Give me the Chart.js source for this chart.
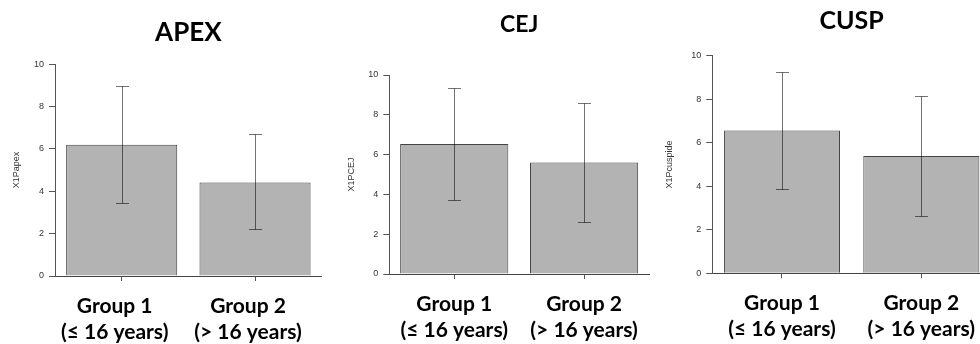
<!DOCTYPE html>
<html>
<head>
<meta charset="utf-8">
<script src="https://cdn.jsdelivr.net/npm/chart.js@4/dist/chart.umd.min.js"></script>
<style>
  html, body { margin: 0; padding: 0; background: #fff; width: 980px; height: 344px; overflow: hidden; }
  .panel { position: absolute; top: 0; }
  canvas { display: block; }
</style>
</head>
<body>
<div class="panel" style="left:0px"><canvas id="c1" width="330" height="344"></canvas></div>
<div class="panel" style="left:330px"><canvas id="c2" width="330" height="344"></canvas></div>
<div class="panel" style="left:660px"><canvas id="c3" width="340" height="344"></canvas></div>
<script>
// ---- data ----
const categories = [["Group 1", "(\u2264 16 years)"], ["Group 2", "(> 16 years)"]];
const yTickValues = [0, 2, 4, 6, 8, 10];

const apexMean = [6.2, 4.42];
const apexLow  = [3.45, 2.2];
const apexHigh = [8.95, 6.7];

const cejMean = [6.53, 5.6];
const cejLow  = [3.7, 2.62];
const cejHigh = [9.36, 8.59];

const cuspMean = [6.56, 5.39];
const cuspLow  = [3.88, 2.64];
const cuspHigh = [9.27, 8.13];

const titles = ["APEX", "CEJ", "CUSP"];
const yTitles = ["X1Papex", "X1PCEJ", "X1Pcuspide"];

// ---- drawing ----
Chart.defaults.font.family = "'Liberation Sans', Arial, sans-serif";
Chart.defaults.animation = false;

const errorBarPlugin = {
  id: 'errorBars',
  afterDatasetsDraw(chart, args, opts) {
    const ctx = chart.ctx;
    const meta = chart.getDatasetMeta(0);
    const y = chart.scales.y;
    ctx.save();
    ctx.strokeStyle = 'rgba(0,0,0,0.55)';
    ctx.lineWidth = 1;
    meta.data.forEach((bar, i) => {
      const x = Math.round(bar.x) + 0.5;
      const yl = Math.round(y.getPixelForValue(opts.low[i])) + 0.5;
      const yh = Math.round(y.getPixelForValue(opts.high[i])) + 0.5;
      const cap = 6.5;
      ctx.beginPath();
      ctx.moveTo(x, yl); ctx.lineTo(x, yh);
      ctx.moveTo(x - cap, yl); ctx.lineTo(x + cap, yl);
      ctx.moveTo(x - cap, yh); ctx.lineTo(x + cap, yh);
      ctx.stroke();
    });
    ctx.restore();
  }
};

function makeChart(id, idx, mean, low, high, cfg) {
  const canvas = document.getElementById(id);
  const H = canvas.height;
  return new Chart(canvas, {
    type: 'bar',
    data: {
      labels: categories,
      datasets: [{
        data: mean,
        backgroundColor: '#b3b3b3',
        borderColor: '#444444',
        borderWidth: 1,
        categoryPercentage: 1.0,
        barPercentage: 0.833
      }]
    },
    plugins: [errorBarPlugin],
    options: {
      responsive: false,
      devicePixelRatio: 1,
      layout: { padding: { left: 0, right: cfg.padRight, top: 0, bottom: 0 } },
      plugins: {
        legend: { display: false },
        tooltip: { enabled: false },
        title: {
          display: true,
          text: titles[idx],
          fullSize: false,
          color: '#000',
          font: { family: "Lato, 'Open Sans', sans-serif", weight: 'bold', size: cfg.titleSize, lineHeight: 1.2 },
          padding: { top: cfg.titlePadTop, bottom: cfg.titlePadBottom }
        },
        errorBars: { low: low, high: high }
      },
      scales: {
        x: {
          offset: true,
          grid: { display: true, offset: false, drawOnChartArea: false, drawTicks: true, tickLength: 5, color: '#555' },
          border: { display: true, color: '#444', width: 1 },
          ticks: {
            color: '#000',
            font: { family: "Lato, 'Open Sans', sans-serif", weight: 'bold', size: 21, lineHeight: 1.24 },
            padding: 12,
            maxRotation: 0,
            minRotation: 0,
            autoSkip: false,
            labelOffset: cfg.labelOffset
          },
          afterFit(scale) { scale.height = H - cfg.bottom; }
        },
        y: {
          min: 0,
          max: 10,
          afterBuildTicks(scale) { scale.ticks = yTickValues.map(v => ({ value: v })); },
          grid: { display: true, drawOnChartArea: false, drawTicks: true, tickLength: 6, color: '#555' },
          border: { display: true, color: '#555', width: 1 },
          ticks: { color: '#333', font: { size: 9 }, padding: 5 },
          title: {
            display: true,
            text: yTitles[idx],
            color: '#333',
            font: { size: 9 },
            padding: { top: cfg.yTitlePad, bottom: 0 }
          },
          afterFit(scale) { scale.width = cfg.left; }
        }
      }
    }
  });
}

makeChart('c1', 0, apexMean, apexLow, apexHigh,
  { left: 55, padRight: 8.3, bottom: 276, titleSize: 26, titlePadTop: 17, titlePadBottom: 16, labelOffset: -7, yTitlePad: 11.6 });
makeChart('c2', 1, cejMean, cejLow, cejHigh,
  { left: 59.3, padRight: 11, bottom: 274, titleSize: 23, titlePadTop: 11, titlePadBottom: 36.4, labelOffset: 0, yTitlePad: 16.3 });
makeChart('c3', 2, cuspMean, cuspLow, cuspHigh,
  { left: 52.3, padRight: 9, bottom: 273.3, titleSize: 25, titlePadTop: 6, titlePadBottom: 19.7, labelOffset: 0, yTitlePad: 4.6 });
</script>
</body>
</html>
